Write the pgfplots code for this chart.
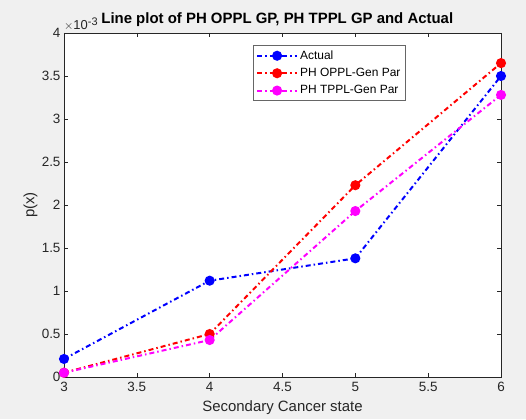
\documentclass[border=0pt]{standalone}
\usepackage{pgfplots}
\pgfplotsset{compat=1.18}
\usepackage{fontspec}
\setmainfont{Liberation Sans}
\definecolor{figbg}{RGB}{240,240,240}
\definecolor{axcol}{RGB}{38,38,38}
\definecolor{mblue}{RGB}{0,0,255}
\definecolor{mred}{RGB}{255,0,0}
\definecolor{mmag}{RGB}{255,0,255}
\begin{document}
\begin{tikzpicture}[x=1bp,y=1bp]
\fill[figbg] (-64,-42) rectangle (462,377);
\begin{axis}[
  at={(0,0)}, anchor=south west,
  scale only axis, width=437bp, height=344bp,
  xmin=3, xmax=6, ymin=0, ymax=4,
  xtick={3,3.5,...,6}, ytick={0,0.5,...,4},
  tick align=inside,
  major tick length=4bp,
  axis line style={axcol, line width=0.6bp},
  tick style={axcol, line width=0.6bp},
  axis background/.style={fill=white},
  ticklabel style={font=\fontsize{13.5}{15}\selectfont, text=axcol},
  xticklabel style={yshift=-2bp},
  /pgf/number format/assume math mode=true,
  /pgf/number format/fixed,
  xlabel={Secondary Cancer state},
  ylabel={p(x)},
  label style={font=\fontsize{15}{17}\selectfont, text=axcol},
  xlabel style={at={(axis description cs:0.5,0)}, anchor=north, yshift=-20bp},
  ylabel style={at={(axis description cs:0,0.5)}, anchor=south, yshift=23bp},
  title={\textbf{Line plot of PH OPPL GP, PH TPPL GP and Actual}},
  title style={font=\fontsize{15}{17}\selectfont, at={(axis description cs:0.488,1)}, anchor=base, yshift=4bp},
  legend style={at={(0.432,0.964)}, anchor=north west, draw=gray!80!black, line width=0.6bp,
    font=\fontsize{12}{13}\selectfont, inner sep=3bp, row sep=3.5bp},
  legend cell align=left,
  legend image code/.code={\draw[#1] (0bp,0bp) -- (20bp,0bp) -- (40bp,0bp); \draw[#1, only marks] plot coordinates {(20bp,0bp)};},
  every axis plot/.append style={line width=2bp, dash pattern=on 5bp off 3bp on 1.5bp off 3bp},
]
\addplot[mblue, mark=*, mark size=4bp, mark options={solid}] coordinates {(3,0.21) (4,1.12) (5,1.38) (6,3.50)};
\addplot[mred, mark=*, mark size=4bp, mark options={solid}] coordinates {(3,0.05) (4,0.50) (5,2.23) (6,3.65)};
\addplot[mmag, mark=*, mark size=4bp, mark options={solid}] coordinates {(3,0.05) (4,0.43) (5,1.93) (6,3.28)};
\legend{Actual, PH OPPL-Gen Par, PH TPPL-Gen Par}
\end{axis}
\node[anchor=base west, font=\fontsize{13}{14}\selectfont, text=axcol, inner sep=0pt] at (0,348) {$\times$10\raisebox{4bp}{\fontsize{11}{12}\selectfont -3}};
\pgfresetboundingbox
\useasboundingbox (-64,-42) rectangle (462,377);
\end{tikzpicture}
\end{document}
